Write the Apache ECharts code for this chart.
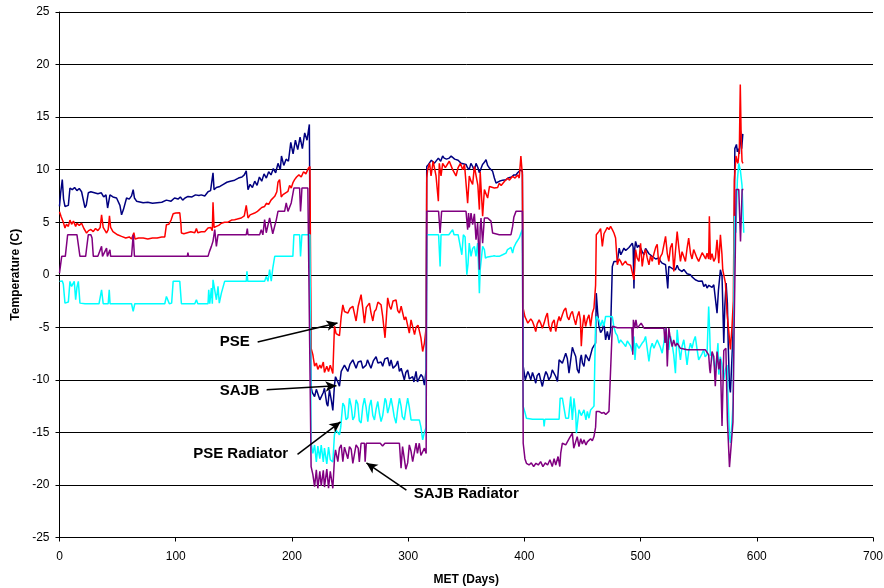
<!DOCTYPE html>
<html>
<head>
<meta charset="utf-8">
<title>Temperature vs MET</title>
<script src="https://cdn.jsdelivr.net/npm/echarts@6/dist/echarts.min.js"></script>
<style>
  html, body { margin: 0; padding: 0; background: #fff; }
  #chart { width: 884px; height: 588px; }
</style>
</head>
<body>
<div id="chart"></div>
<script>
// [day, temperature]
var sajb = [
  [0,6.5],[1,7.8],[2.4,9.05],[3.5,7.2],[4.7,6.5],[6,6.5],[7.6,6.6],[9,8.25],[11,8.1],[13,8.3],[15,8.0],[17,8.2],[19,7.9],
  [21.9,6.4],[23,6.6],[24.8,7.8],[27,7.9],[30,7.8],[33,7.7],[36,7.8],[38,7.4],[40,7.6],[41.4,6.35],[43.4,7.6],[46,7.4],
  [49.1,7.3],[52,6.6],[53.4,5.7],[55,6.2],[57.7,7.3],[60,7.2],[62,7.5],[63.4,8.1],[64.5,7.3],[66.3,7.0],[68,6.9],[72,6.85],
  [76,6.9],[80,6.8],[84,6.85],[88,6.9],[92,7.1],[96,7.0],[99,7.3],[102,7.2],[104,7.4],[106,7.1],[108,7.3],[110.6,7.45],
  [114,7.4],[117,7.6],[120,7.55],[122,7.6],[125,7.5],[127.8,7.9],[130,8.0],[132.1,9.7],[133,8.1],[135,8.3],[138,8.4],
  [141,8.6],[144,8.8],[147,8.9],[150.7,9.0],[154,9.2],[157,9.3],[159,9.5],[160.7,9.9],[162.2,8.1],[164,8.6],[166,8.3],
  [168,8.9],[170,8.5],[172,9.3],[174,8.9],[176,9.6],[178,9.2],[180,9.8],[182,9.5],[184,10.1],[186,9.7],[188,10.6],
  [190,10.0],[191,11.3],[193,10.4],[195,11.0],[197,10.8],[199,12.6],[201,11.5],[203,12.8],[205,11.9],[207,13.1],
  [209,12.0],[211,13.5],[213,12.8],[215,14.3],[216.3,-10.6],
  [217.5,-11.2],[219.5,-11.6],[221,-10.9],[222.3,-10.8],[224,-11.9],[225.2,-11.9],[227,-11.2],[228,-10.8],[230,-12.3],
  [230.9,-12.5],[232.3,-10.95],[234,-12.0],[235.2,-12.9],[236.6,-10.5],[237.5,-9.7],[239.5,-10.2],[240.9,-10.6],
  [242.4,-9.2],[245.2,-8.6],[248.1,-9.2],[250,-8.5],[252.4,-8.1],[255.2,-8.9],[257,-8.3],[259.5,-8.2],[261,-8.9],
  [263.8,-8.6],[265,-8.1],[266.7,-8.1],[268,-8.9],[270,-8.2],[272.4,-7.8],[274,-8.4],[276.7,-8.3],[278.1,-8.7],
  [280,-8.0],[282.4,-7.9],[284,-8.7],[285.3,-8.1],[287,-8.9],[289.6,-8.6],[291,-8.2],[292.5,-9.2],[294,-8.9],
  [296.7,-10.0],[298,-9.3],[299.6,-9.05],[301,-9.9],[303.9,-9.7],[305,-10.2],[306.8,-9.2],[308,-10.2],[309.6,-10.16],
  [311,-9.5],[312.5,-9.7],[314,-10.5],[315.5,-9],[316,10.3],
  [317.5,10.5],[318.2,10.6],[320,10.9],[321.1,11.0],[322.5,10.6],[324,10.6],[326,11.1],[328,10.8],[329.7,11.3],
  [331,11.1],[333,11.0],[335.4,11.1],[337,11.3],[338.3,11.2],[340,11.0],[341.2,10.95],[343,10.9],[345.5,10.6],
  [347,10.7],[349.8,10.5],[351,10.2],[352.6,10.0],[354,10.6],[355.5,10.3],[357,9.9],[358.4,10.6],[360,10.2],
  [361.3,9.7],[362.7,9.8],[364,10.5],[365.6,10.7],[367,10.95],[368.4,10.4],[369.9,10.16],[371.3,10.0],[372.7,9.84],
  [374.2,9.2],[375.6,8.73],[377,8.9],[378.4,8.89],[380,8.8],[381.3,9.0],[383,8.9],[384.2,9.05],[386,9.2],[387,9.37],
  [389,9.3],[389.9,9.37],[391,9.5],[392.8,9.5],[394.2,9.7],[395.6,9.68],[397.1,10.0],[398.3,9.8],[399,-8.7],
  [400.8,-10.0],[403,-9.21],[404.1,-9.5],[405.5,-10.0],[407,-9.3],[408.5,-9.8],[409.8,-10.32],[411,-9.6],[412.7,-9.37],
  [414,-10.0],[415.5,-10.63],[417,-9.8],[418.5,-9.21],[419.8,-9.5],[421,-10.0],[422.7,-9.7],[424,-9.05],[425.6,-9.2],
  [427,-9.68],[428.5,-10.16],[429.9,-8.1],[431,-8.2],[432.7,-8.41],[434,-8.0],[435.6,-7.46],[437,-8.0],[438.4,-9.37],
  [440,-8.0],[441.3,-6.9],[442.5,-7.3],[444.2,-7.78],[445.5,-9.0],[447,-9.37],[448.2,-8.0],[449,-7.62],[450,-8.4],
  [451.3,-8.73],[452.7,-7.6],[454.2,-7.46],[455.6,-8.2],[457,-8.25],[458.5,-7.0],[459.9,-7.14],[461.3,-6.5],
  [461.9,-1.75],[463,-3.5],[464.2,-4.92],[465.6,-5.5],[467.1,-5.24],[468.5,-4.6],[469.9,-6.19],[471.4,-5.4],
  [472.8,-6.2],[474.2,-5.3],[475.7,0.79],[477.1,1.27],[478.5,1.43],[480,1.27],
  [481.6,2.54],[483,1.9],[484.3,2.2],[485.7,2.54],[487.2,2.3],[488.6,2.38],[490,2.6],[491.5,2.5],[492.9,3.0],
  [493.6,2.6],[494.3,-1.3],[495,2.5],[495.7,3.17],[497.2,2.6],[498.6,2.8],[500,2.54],[501.4,2.2],[502.9,1.9],
  [504.3,2.5],[505.7,2.38],[507.2,2.0],[508.6,2.1],[510,1.75],[511.5,1.9],[513,1.5],[514.3,1.43],[515.7,1.6],
  [517,1.3],[518.6,1.1],[520,1.2],[521.5,0.95],[522.9,0.79],[523.4,-1.3],[524.3,0.79],[526,0.9],[527.2,0.6],
  [528.6,0.7],[530,0.48],[531.5,0.9],[533,0.5],[534.3,0.63],[535.7,0.3],[537.2,0.5],[538.6,0.32],[540,0.1],
  [541.4,0.2],[542.9,0.0],[544.3,-0.2],[545.7,-0.1],[547.1,-0.48],[548.5,-0.4],[550.1,-0.63],[551.5,-0.79],
  [553,-0.6],[554.4,-1.11],[556,-0.9],[557.2,-1.27],[558.7,-1.0],[560,-0.95],[561.5,-1.2],[563,-0.95],[564.4,-0.8],
  [565.8,-3.65],[567,-1.5],[568.7,0.48],[570.1,-0.16],[571.6,-6.5],[572.5,-3.0],[573.6,-0.8],[574.7,-2.7],
  [575.5,-7.0],[576.5,-10.6],[577.3,-11.2],[578.2,-9.05],[579,-7.0],[580.2,-3.33],[581.1,12.0],[582.5,12.4],
  [583.3,11.7],[584,12.0],[585,11.5],[586,13.7],[587,12.0],[588,13.4]
];

var pse = [
  [0,6.0],[1.5,5.5],[3.3,5.0],[4.7,4.44],[6,4.8],[7.6,4.6],[9,5.2],[10.4,4.8],[12,5.1],[13.9,4.6],[15,4.9],[17,4.7],
  [19,4.9],[21,4.4],[23.3,3.97],[25,4.2],[27,4.3],[29,4.1],[31,4.4],[33,4.2],[35,4.5],[36.2,5.7],[37.6,4.5],[39,4.6],
  [40.5,3.97],[41.9,4.3],[43,5.6],[44,4.5],[46,4.1],[47.7,4.13],[50,3.8],[53.4,3.65],[55,3.8],[57,3.5],[60,3.6],
  [62,3.4],[63.4,3.33],[64,4.0],[65,3.4],[68,3.5],[72,3.5],[76,3.4],[80,3.5],[84,3.5],[88,3.6],[90.6,3.6],[92,4.76],
  [94,4.8],[96,5.2],[97.8,5.8],[100,5.87],[103.5,5.9],[104.5,4.8],[104.9,3.97],[107,3.9],[110,4.0],[113,4.1],
  [116.4,4.0],[117.8,4.4],[119,4.0],[122,4.1],[125,4.1],[127.8,4.44],[130,4.5],[131.5,4.2],[132.1,6.9],[133,4.5],
  [135,4.6],[137,4.7],[139.3,4.9],[142,5.0],[145,5.0],[148,5.2],[150.7,5.24],[153,5.3],[156.4,5.4],[159,5.6],
  [160.7,6.6],[162.2,5.4],[164,5.7],[167.9,5.87],[170,6.0],[172,6.2],[174,6.4],[176.5,6.5],[178,6.8],[180,6.7],
  [182,7.1],[185.2,7.46],[187,7.9],[188,8.8],[189.4,9.05],[190.8,7.4],[192.3,7.62],[194,7.8],[196.6,7.94],[198,8.5],
  [199.4,8.25],[201,8.8],[202.3,9.05],[204,9.3],[206,9.5],[208,9.3],[210,9.8],[212,9.6],[214,10.1],[215.5,10.3],
  [216.5,-7.0],
  [218,-7.6],[219.5,-8.7],[221,-8.4],[222.3,-9.0],[224,-8.6],[225.2,-8.9],[227,-8.3],[228,-9.3],[230,-8.7],
  [231.5,-9.2],[233,-8.6],[235.2,-9.4],[236.6,-4.9],[238,-5.6],[239.5,-5.5],[240.9,-5.8],[242.4,-4.0],[243.8,-2.86],
  [245.2,-3.5],[248.1,-3.65],[250,-3.2],[252.4,-3.0],[253.8,-3.7],[255.2,-4.4],[257,-3.0],[259.5,-1.9],[261,-3.2],
  [262.4,-4.6],[264,-3.1],[266.7,-2.7],[268,-3.6],[269.6,-4.4],[271,-3.5],[272.4,-3.3],[274,-2.6],[276.7,-2.86],
  [278.1,-3.97],[280.1,-6.0],[282.4,-2.2],[284,-3.0],[285.3,-3.3],[287,-2.5],[289.6,-2.4],[291,-3.4],[292.5,-3.65],
  [294,-3.0],[296.7,-4.3],[298,-4.0],[301,-5.56],[302.5,-4.3],[303.9,-4.44],[305.5,-5.7],[306.8,-5.0],[308.5,-4.8],
  [309.6,-4.92],[311,-6.0],[312.5,-7.3],[314,-6.5],[315.5,-5],[316,9.2],
  [316.8,10.0],[318.5,10.6],[319.7,9.4],[321.5,10.8],[324,9.4],[326,7.0],[326.8,10.6],[328.3,9.4],[329.7,10.6],
  [332,10.2],[335.4,10.8],[338.3,10.0],[341.2,9.4],[343,10.2],[345,10.6],[346.9,10.0],[348.5,10.5],[349.8,10.6],
  [351.2,6.8],[352.6,9.4],[354.1,8.9],[355.5,8.6],[357,10.3],[358.4,10.3],[360,8.5],[361.3,6.2],[362,9.8],
  [362.7,9.84],[364.1,5.56],[365.6,8.1],[367,8.1],[368.4,7.3],[370,8.4],[371.3,8.5],[374.2,8.25],[375.6,8.4],
  [377,8.3],[378.4,8.7],[380,8.5],[381.3,8.57],[383,8.9],[384.2,9.05],[386,9.2],[387,9.0],[389.9,9.37],[392,9.2],
  [394.2,9.5],[395.6,9.2],[397,11.3],[398.3,9.5],[399,-3.2],
  [400.5,-4.0],[401.8,-4.3],[403,-4.6],[404.1,-4.76],[405.5,-4.2],[407,-4.44],[408.5,-4.9],[409.8,-5.4],[411,-4.7],
  [412.7,-4.29],[414,-4.6],[415.5,-5.08],[417,-4.6],[418.5,-4.0],[419.8,-3.65],[421,-4.8],[422.7,-5.4],[424,-4.6],
  [425.6,-4.29],[427,-5.4],[428.5,-4.5],[429.9,-3.97],[431,-4.4],[432.7,-3.8],[434,-3.4],[435.6,-3.17],[437,-4.0],
  [438.4,-4.29],[440,-3.7],[441.3,-3.49],[442.8,-4.2],[444.2,-4.76],[445.5,-4.0],[447,-3.49],[448.2,-4.3],
  [449,-6.8],[450,-5.0],[451.3,-3.81],[452.7,-4.92],[454.2,-4.2],[455.6,-3.81],[457,-4.92],[458.5,-3.65],
  [459.9,-3.17],[461.3,-1.0],[461.9,3.81],[463,4.0],[464.2,4.13],[465.6,4.4],[467.1,2.7],[468.5,3.9],[469.9,3.97],
  [471.4,4.5],[472.8,4.3],[474.2,4.6],[475.7,4.3],[477.1,3.97],[478.5,3.5],[480,0.95],
  [481.5,1.5],[482.9,1.27],[484.3,0.9],[485.7,0.79],[487,1.3],[488.5,1.0],[490,1.1],[491.5,0.9],[492.9,0.79],
  [494.3,-0.48],[495.7,2.38],[497,1.6],[498.6,1.27],[500,3.0],[501.4,0.79],[503,2.0],[504.3,2.4],[505.7,1.6],
  [507.2,0.95],[508.6,1.8],[510,1.27],[511.5,2.0],[513,2.6],[514.3,2.9],[515.7,0.95],[517,1.7],[518.6,2.0],
  [520,2.8],[521.5,3.65],[523,2.0],[524.3,1.27],[525.7,2.6],[527.2,3.0],[528.6,0.32],[530,2.2],[531.5,4.1],
  [533,2.5],[534.3,1.27],[535.7,2.2],[537.2,2.38],[538.6,1.27],[540,2.5],[541.4,3.49],[543,2.0],[544.3,1.5],
  [545.7,2.4],[547.1,2.54],[548.5,1.6],[550,1.27],[551.5,1.43],[553,2.1],[554.4,2.22],[556,1.5],[557.2,2.06],
  [558.6,1.5],[559.2,5.56],[560.1,1.43],[561.5,2.0],[563,1.27],[564.4,1.6],[565.8,3.33],[567.3,1.11],[568.7,3.81],
  [570,2.0],[570.7,0.48],[572,0.3],[573,-0.79],[574.4,-3.65],[576,-5.5],[577.3,-7.1],[578.7,-4.9],[579.8,-2.5],
  [580.7,9.0],[582.1,11.3],[583,10.8],[583.8,10.6],[585,12.0],[585.8,18.1],[586.5,13.5],[587.3,10.8],[588.1,10.6]
];

var pseRad = [
  [0,-0.63],[1,-0.63],[2.4,-0.6],[3.3,-0.9],[4.7,-2.7],[6.2,-2.7],[7.6,-2.6],[9,-0.63],[10.4,-1.11],[11.5,-1.0],
  [12.7,-0.63],[13.9,-2.38],[15,-1.2],[16.2,-0.63],[17.6,-2.7],[19,-2.76],[22,-2.76],[26,-2.76],[30,-2.76],
  [34,-2.76],[36.2,-1.43],[37.6,-2.76],[41.9,-2.76],[42.8,-1.43],[43.5,-2.76],[48,-2.76],[53,-2.76],[58,-2.76],
  [62,-2.76],[63.4,-3.49],[64.8,-2.76],[70,-2.76],[76,-2.76],[82,-2.76],[88,-2.76],[90.6,-2.76],[92,-2.06],
  [94.5,-2.76],[96.5,-2.7],[97.8,-0.63],[100,-0.63],[103.5,-0.63],[104.9,-2.76],[110,-2.76],[116.4,-2.76],
  [117.8,-2.38],[119,-2.76],[124,-2.76],[127.8,-2.76],[128.4,-1.43],[129.3,-2.76],[130.7,-1.27],[131.5,-2.76],
  [132.1,-0.48],[135,-2.38],[136.4,-1.11],[137.5,-2.7],[139.3,-1.75],[142.1,-0.63],[146,-0.63],[150,-0.63],
  [155,-0.63],[160.7,-0.63],[161.3,0.32],[162,-0.63],[168,-0.63],[173.6,-0.63],[176.5,-0.63],[177.9,-0.16],
  [179.4,-0.63],[180.8,0.48],[182.2,-0.6],[183.5,0.6],[185.2,1.75],[187,1.75],[190,1.75],[195,1.75],[200.8,1.75],
  [201.7,3.81],[204,3.81],[206.6,3.81],[207.4,1.75],[208.6,3.81],[211,3.81],[213,3.81],[215.5,3.81],[216.5,-16.0],
  [218,-17.0],[219.5,-16.2],[221,-17.8],[222.3,-16.3],[224,-17.5],[225.2,-16.2],[227,-17.8],[228,-16.5],[230,-18.0],
  [231.5,-16.4],[233,-17.6],[235.2,-17.8],[236.6,-15.2],[238,-14.8],[239.5,-14.76],[240.9,-15.24],[242,-14.5],
  [243.8,-12.22],[245.2,-12.5],[246.5,-13.8],[248.1,-13.6],[249.5,-11.75],[251,-12.5],[252.4,-13.81],[253.8,-13.5],
  [255.2,-11.9],[256.7,-12.3],[258,-13.9],[259.5,-14.1],[261,-12.5],[262.4,-11.75],[263.8,-12.6],[265.3,-13.97],
  [266.7,-12.5],[268.1,-11.9],[269.6,-13.4],[271,-13.81],[272.4,-12.8],[273.9,-12.06],[275.3,-13.2],[276.7,-13.97],
  [278.1,-13.4],[280.1,-11.75],[281,-12.0],[282.4,-13.17],[283.9,-12.5],[285.3,-11.75],[286.7,-12.6],[288,-13.5],
  [289.6,-14.13],[291,-12.8],[292.5,-11.75],[293.9,-12.5],[295,-13.5],[296.7,-13.81],[298,-12.8],[299.6,-11.75],
  [301,-12.6],[302.5,-13.81],[303.9,-13.81],[306.8,-13.81],[309.6,-13.81],[311,-14.5],[312.5,-15.71],[314,-15.0],
  [315.5,-14.5],[316,3.81],
  [318,3.81],[321,3.81],[324,3.81],[326.2,3.81],[327.5,0.79],[328.3,3.81],[331,3.81],[335,3.81],[338.3,4.29],
  [339.5,3.81],[343,3.81],[344.5,3.81],[346.2,1.9],[347.5,3.81],[349,3.6],[350.5,0.0],[351.5,1.0],[352.6,3.02],
  [354.1,1.75],[355.5,2.5],[357,2.7],[358.4,1.75],[359.8,3.02],[360.5,1.0],[361.3,-1.75],[362,0.5],[362.7,0.48],
  [364.1,2.7],[365.6,2.4],[366.5,1.59],[368.4,1.7],[370,1.75],[372,1.75],[374,1.8],[376,1.75],[378.4,1.75],
  [380,1.9],[381.3,1.9],[383,1.9],[384.2,2.06],[385.5,2.4],[387,2.38],[388.5,2.6],[389.9,2.06],[391,2.6],
  [392.8,3.02],[394.2,3.2],[395.6,3.5],[397.1,3.97],[398.3,4.3],[399,-12.54],
  [400.3,-13.0],[401.8,-13.65],[403,-13.75],[407,-13.75],[410,-13.75],[414,-13.75],[416.5,-13.75],[417,-14.44],
  [417.7,-13.75],[422,-13.75],[426,-13.75],[429.9,-13.75],[430.8,-11.75],[432.7,-11.75],[434.2,-11.75],
  [435.6,-13.65],[438,-13.65],[439.9,-11.59],[441.3,-13.81],[442.7,-11.75],[444.2,-13.2],[444.8,-15.08],
  [447,-12.86],[449,-13.4],[451.3,-12.86],[453,-13.81],[454.2,-13.0],[455.6,-13.65],[457,-12.86],[458.5,-13.0],
  [459.9,-12.5],[461.3,-4.5],[462,-3.97],[464.2,-4.3],[465.6,-4.9],[467.1,-4.29],[468.5,-4.9],[469.9,-3.97],
  [471.4,-4.0],[472.8,-3.97],[474.2,-4.0],[475.7,-4.0],[477.1,-5.0],[478.6,-5.56],
  [480,-5.8],[481.4,-6.51],[482.8,-6.2],[484.3,-6.03],[485.7,-6.6],[487.2,-6.83],[488.6,-6.3],[490,-6.19],
  [491.5,-6.8],[492.9,-7.3],[494.3,-5.87],[495.2,-8.1],[496.2,-6.5],[497.2,-6.51],[498.6,-7.0],[500,-7.14],
  [501.4,-6.5],[502.9,-6.3],[504.3,-5.87],[505.7,-7.0],[507.2,-8.25],[508.6,-7.0],[510,-6.51],[511.5,-7.0],
  [512.9,-6.83],[514.3,-6.2],[515.7,-6.03],[517,-6.9],[518.6,-7.46],[520,-6.5],[521.5,-5.08],[523,-6.3],
  [524.3,-7.14],[525.8,-5.87],[527,-6.5],[528.5,-7.6],[530,-9.37],[531.5,-5.24],[533,-7.0],[534.3,-8.1],
  [535.7,-6.8],[537.2,-6.19],[538.6,-7.3],[540,-8.57],[541.4,-7.3],[542.9,-6.51],[544.3,-7.0],[545.7,-6.3],
  [547.1,-5.87],[548.5,-7.0],[550,-8.1],[551.5,-7.8],[552.9,-7.5],[554.3,-7.14],[555.5,-7.8],[557.2,-7.6],
  [558.6,-3.02],[559.5,-5.5],[560.1,-7.7],[561.5,-7.46],[563,-7.5],[564.3,-9.05],[565.8,-7.6],[566.6,-6.51],
  [567.3,-9.5],[568.6,-7.8],[570,-8.5],[571.6,-10.0],[573,-9.0],[574.4,-8.6],[575.9,-13.5],[576.5,-15.4],
  [577.4,-16.0],[578.7,-14.0],[579.7,-12.0],[580.8,5.6],[582,4.0],[583.3,9.0],[584.5,10.6],[585.8,10.0],
  [587.3,8.5],[588.8,4.0]
];

var sajbRad = [
  [0,0.16],[1.9,1.75],[3,1.75],[5,1.75],[6.2,1.75],[7,3.81],[9,3.81],[12,3.81],[15,3.81],[16.2,3.81],[17.6,1.75],
  [20,1.75],[22.5,1.75],[23.3,2.5],[24.8,3.81],[27,3.81],[28,3.5],[29.1,1.75],[33,1.75],[36.2,2.7],[37,1.75],
  [40.5,2.54],[41.2,1.75],[43.4,2.38],[44,1.75],[50,1.75],[56,1.75],[62,1.75],[63.4,3.81],[64.5,1.75],[70,1.75],
  [80,1.75],[90,1.75],[100,1.75],[110,1.75],[110.5,2.1],[111,1.75],[120,1.75],[127.8,1.75],[129,2.2],[130.7,2.7],
  [132.1,3.2],[133.6,4.29],[135,2.7],[136.4,3.81],[140,3.81],[145,3.81],[150,3.81],[155,3.81],[160.7,3.81],
  [161.6,4.4],[162.2,3.81],[168,3.81],[172.2,3.81],[173.6,4.29],[175,3.8],[176.5,5.24],[177.9,4.0],[179.4,3.81],
  [180.8,5.4],[182.2,5.56],[183.5,3.9],[185.2,3.97],[186.5,5.2],[188,6.03],[190,6.03],[193.7,6.03],[195.1,6.83],
  [196.6,6.03],[198,6.2],[199.4,6.83],[201.7,8.25],[204,8.25],[206.6,8.25],[207.4,6.03],[208,7.0],[208.6,8.25],
  [211,8.25],[213.7,8.25],[215.1,8.25],[216.5,-18.25],
  [218,-19.0],[219.5,-20.16],[221,-18.57],[222.3,-20.32],[224,-18.7],[225.2,-20.1],[227,-18.6],[228,-20.2],
  [230,-18.5],[231.5,-20.3],[233,-18.7],[235.2,-20.32],[236.6,-17.5],[237.5,-16.67],[239.5,-17.78],[240.9,-16.5],
  [242.4,-16.19],[243.8,-17.78],[245.2,-16.4],[248.1,-17.5],[249.5,-16.35],[251,-16.6],[252.4,-17.94],
  [255.2,-16.19],[257,-16.5],[258,-17.8],[259.5,-16.03],[262.4,-16.03],[263,-17.78],[264,-16.03],[268,-16.03],
  [272.4,-16.03],[276,-16.03],[278,-16.3],[280,-16.03],[285,-16.03],[289.6,-16.03],[292.5,-16.03],[293.9,-18.4],
  [295.2,-16.35],[296.7,-16.3],[298,-18.5],[299.6,-17.9],[301,-16.19],[302.5,-16.8],[303.9,-17.78],[306.8,-16.03],
  [308,-17.0],[309.6,-16.03],[311,-17.2],[312.5,-17.3],[314,-16.5],[315.5,-17.0],[316,6.03],
  [320,6.03],[324,6.03],[326.2,6.03],[327.5,3.97],[328.8,6.03],[333,6.03],[338,6.03],[343,6.03],[346.9,6.03],
  [349.8,6.03],[351.2,4.29],[352,5.87],[352.6,4.5],[353.3,4.44],[354.1,5.87],[355.5,4.76],[357,5.8],[358.4,3.33],
  [359.8,4.92],[361.3,0.48],[362,4.5],[362.7,5.4],[364.1,3.0],[365.6,5.4],[367,5.24],[368.4,5.4],[369.9,5.24],
  [371.3,5.1],[372.7,3.97],[374.2,3.81],[378.4,3.81],[382,3.81],[386,3.81],[388.5,3.81],[389.9,4.6],[391,5.5],
  [392.8,6.03],[395.6,6.03],[397.1,6.03],[398.3,6.03],[399,-16.03],
  [400.5,-17.5],[401.8,-17.94],[404,-18.1],[406,-17.9],[408,-18.25],[410,-17.94],[412,-18.1],[414,-17.78],
  [416,-18.25],[418,-17.9],[420,-18.1],[422,-17.6],[424,-18.25],[425.6,-17.5],[427,-18.1],[429,-17.3],
  [430.5,-18.25],[431.3,-16.98],[432.7,-16.03],[435.6,-16.19],[437,-16.0],[439,-15.5],[441.3,-15.08],
  [442.5,-16.5],[444.2,-16.35],[445.5,-15.4],[447,-16.35],[448.5,-15.6],[449.9,-16.1],[451.3,-15.71],[453,-16.2],
  [454.2,-15.9],[455.6,-16.03],[457,-15.6],[458.5,-15.8],[459.9,-15.4],[461.3,-14.5],[461.9,-13.0],[464.2,-13.0],
  [466.5,-13.17],[468.5,-13.1],[470,-13.3],[471.4,-13.49],[472.8,-13.0],[474.2,-12.9],[475.7,-4.9],[476.5,-5.05],
  [480,-5.05],[485,-5.05],[490,-5.05],[492.5,-5.05],[493.3,-7.62],[493.8,-4.29],[495,-5.08],[496,-4.3],
  [497.2,-5.08],[498.6,-5.08],[500.5,-4.6],[503,-5.08],[508,-5.08],[513,-5.08],[518,-5.08],[520.1,-5.08],
  [521,-6.5],[522,-5.0],[523,-8.73],[524.3,-5.08],[525.5,-6.0],[527.2,-6.83],[528.5,-6.2],[530,-6.8],[531.5,-6.51],
  [533,-6.6],[534.3,-7.0],[535.8,-7.14],[540,-7.14],[545,-7.14],[550,-7.14],[555.8,-7.14],[557.2,-7.3],
  [558.6,-7.62],[559.5,-9.0],[560,-9.37],[561.5,-7.3],[563,-7.78],[564.3,-10.6],[565.8,-7.3],[567.3,-9.0],
  [568.6,-8.0],[570.1,-14.4],[571.6,-7.2],[573.4,-7.0],[574.7,-13.8],[576.5,-18.3],[578,-18.3],[579.5,-14.0],
  [580.5,-5.0],[581.5,2.0],[582.2,8.1],[584.5,8.1],[586,3.17],[587.4,8.1],[588.5,8.1]
];

// callout labels and arrows, in data units: [label, labelX, labelY, fromX, fromY, toX, toY]
var notes = [
  ['PSE', 150.7, -6.4, 170.5, -6.4, 239.2, -4.6],
  ['SAJB', 155, -11.05, 178.2, -10.95, 238.3, -10.57],
  ['PSE Radiator', 155.9, -17.05, 204.8, -17.1, 241.8, -14.0],
  ['SAJB Radiator', 350, -20.86, 298.5, -20.5, 264.1, -17.9]
];

var font = 'Arial, "Liberation Sans", sans-serif';

function lineSeries(name, data, color) {
  return {
    name: name,
    type: 'line',
    data: data,
    showSymbol: false,
    symbol: 'none',
    lineStyle: { color: color, width: 1.5 },
    itemStyle: { color: color },
    emphasis: { disabled: true }
  };
}

var chart = echarts.init(document.getElementById('chart'));
var option = {
  animation: false,
  backgroundColor: '#fff',
  grid: { left: 59.5, right: 11, top: 12, bottom: 50.5, containLabel: false, outerBoundsMode: 'none' },
  xAxis: {
    type: 'value',
    min: 0, max: 700, interval: 100,
    name: 'MET (Days)',
    nameLocation: 'middle',
    nameGap: 36,
    nameTextStyle: { fontFamily: font, fontWeight: 'bold', fontSize: 12, color: '#000' },
    axisLine: { onZero: false, lineStyle: { color: '#000', width: 1 } },
    axisTick: { show: true, length: 4, lineStyle: { color: '#000' } },
    axisLabel: { fontFamily: font, fontSize: 12, color: '#000', margin: 13 },
    splitLine: { show: false }
  },
  yAxis: {
    type: 'value',
    min: -25, max: 25, interval: 5,
    name: 'Temperature (C)',
    nameLocation: 'middle',
    nameGap: 35,
    nameTextStyle: { fontFamily: font, fontWeight: 'bold', fontSize: 12, color: '#000' },
    axisLine: { show: true, onZero: false, lineStyle: { color: '#000', width: 1 } },
    axisTick: { show: true, length: 4, lineStyle: { color: '#000' } },
    axisLabel: { fontFamily: font, fontSize: 12, color: '#000', margin: 10 },
    splitLine: { show: true, lineStyle: { color: '#000', width: 1 } }
  },
  series: [
    lineSeries('SAJB', sajb, '#000080'),
    lineSeries('PSE', pse, '#FF0000'),
    lineSeries('PSE Radiator', pseRad, '#00FFFF'),
    lineSeries('SAJB Radiator', sajbRad, '#800080'),
    {
      name: 'notes',
      type: 'line',
      data: [],
      silent: true,
      markLine: {
        silent: true,
        symbol: ['none', 'arrow'],
        symbolSize: [8, 11],
        label: { show: false },
        emphasis: { disabled: true },
        lineStyle: { color: '#000', width: 1.5, type: 'solid' },
        data: notes.map(function (n) {
          return [{ coord: [n[3], n[4]] }, { coord: [n[5], n[6]] }];
        })
      },
      markPoint: {
        silent: true,
        symbol: 'circle',
        symbolSize: 0,
        label: {
          show: true,
          position: 'inside',
          formatter: '{b}',
          fontFamily: font,
          fontWeight: 'bold',
          fontSize: 15,
          color: '#000'
        },
        data: notes.map(function (n) {
          return { name: n[0], coord: [n[1], n[2]], value: 0 };
        })
      }
    }
  ]
};
chart.setOption(option);
</script>
</body>
</html>
